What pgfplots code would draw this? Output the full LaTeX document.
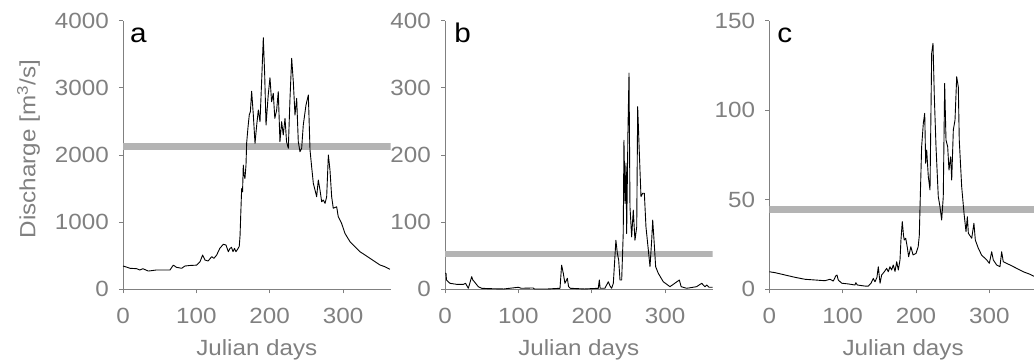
\documentclass[border=0pt]{standalone}
\usepackage{pgfplots}
\pgfplotsset{compat=1.18}
\usepackage{pgfplotstable}
\usepackage{fontspec}
\setmainfont[FakeStretch=1.1]{Liberation Sans}
\definecolor{axgray}{HTML}{808080}
\definecolor{thrgray}{HTML}{B4B4B4}

\pgfplotstableread{
d v
0 347
5 330
9.5 313
18.6 307
23 287
27 307
34.5 272
39 278
45 287
55 287
64 287
68.6 360
73 327
80 313
84.5 347
91.3 355
100.5 360
105 411
108.6 510
111.8 436
116 421
121 486
124 461
127.7 510
132 610
136.7 670
140.4 660
143.6 560
146 610
148 625
150 560
152 610
154 560
157 610
158.5 640
159.6 800
160.5 1100
161.8 1500
163 1450
164 1850
165 1700
166.3 1650
167.7 1850
168.6 2180
170.5 2420
172.2 2600
173.7 2645
175.4 2950
177.7 2595
180 2174
182.3 2446
184.5 2670
186.8 2496
189 3091
191.3 3746
193.2 3191
195 2446
198 2893
200.4 3151
202.6 2793
204.9 2918
207 2546
209.5 2670
211.7 2943
214 2198
216.3 2496
218.5 2298
220.9 2546
223 2198
225.4 2100
227.7 2844
230 3440
232.2 3091
234.5 2595
236.8 2844
239 2198
241.3 2049
243.6 2100
245.8 2446
249.5 2744
252.7 2893
255 2074
257.2 1826
259.5 1578
261.8 1479
264 1379
266.3 1627
268.6 1479
270.9 1304
273 1330
275.5 1280
277.7 1379
280 2000
282.2 1776
284.5 1379
286.7 1206
291.3 1230
293.5 1081
298 983
302.6 834
309.5 709
316.3 634
323 560
330 511
336.7 462
343.6 411
350.4 362
357 337
364 298
}\dataA

\pgfplotstableread{
d v
0 24
1.4 23.8
2 13.8
6.8 8.9
16 7.4
25 7.4
28 8.9
31.8 1.5
36.4 18.8
38 13.8
40 11.3
45.4 3.9
50 1.5
60 1
80 0.5
100 3
104 1.5
120 2
122 0.5
140 0.5
156.8 1.5
159 36
161.3 23.8
163.5 8.9
166.8 16.4
168.5 3.9
171 1.5
190 0.5
209 1.5
210.4 13.8
211.5 1.5
218 1.5
222.7 11.3
225 5
227.2 1.5
229.5 8.9
233 73
235 53.6
236.8 43.6
238.6 13.8
240.9 13.8
243 83
244 222
245.4 128
246.8 188
247.7 83
249.5 240
250.9 322
252.2 123
254.5 78
256.7 118
259 73
261.4 93
262.7 272
265 202
267.2 138
269.5 143
271.8 143
274 93
276.3 68.5
279.5 33.7
281.8 73
283.2 103
285 73
287.2 33.7
290.8 23.8
297.6 11.3
306.7 3.9
319.5 13.8
322 3.9
329.5 1.5
343 3.9
350 8.9
354.5 3.9
357 6.4
360 3
365 3
}\dataB

\pgfplotstableread{
d v
0 9.8
7.8 9.3
21.4 8
35 6.7
48.6 5.6
62.3 5.2
75.9 4.8
82.7 5.6
87.3 4.6
90.5 7.4
92.3 8
94 5.2
98.7 3.4
107.7 3
116.8 2.4
118 3.7
120 2.4
130.5 1.8
135 1.8
138.7 3.4
141.8 6.1
144.1 4.2
146.8 6.7
148.6 12.6
151 3.4
153.2 8
156.8 9.8
160 11.7
162.2 9.8
164.5 12.6
166.8 10.8
169 13.6
171.4 10
173.7 15.4
175.9 10.8
178.2 16.4
179.5 27.5
181.3 37.8
183 30
184 27.5
186 28.5
188 23.8
190 18.2
193 23.8
196 19.2
200 20
203 23.8
204.5 30
205.5 46
207.7 79.6
210 92.7
211.9 98.3
213.2 70.4
214.6 77.8
216.8 62.9
219.1 55.5
221.4 131.8
223.2 137.4
225 107.6
227.3 79.6
230.4 51.7
232.7 46.1
235 38.7
237.2 51.7
239.1 115
240.9 83.4
243.2 79.6
245 66.6
247.3 74
248.7 61
250.9 89
253.2 94.5
255.5 118.7
257.7 113
259 83.4
262.3 57.3
265.5 42.4
268.2 32.2
270 40.5
271.4 31.3
276 28.5
279 36.9
280.9 27.5
285 22.9
289.5 19.1
296.4 16.4
300 14.5
303.2 21
305.4 16.4
310 13.6
314.5 12.6
316.8 21
319 15.4
328.1 13.6
337.3 11.7
346.3 9.8
355.4 8.4
360 7.4
365 7
}\dataC

\pgfplotsset{
  panel/.style={
    scale only axis, width=267.7pt, height=268.6pt,
    anchor=south west,
    xmin=0, xmax=365, ymin=0,
    axis x line*=bottom, axis y line*=left,
    axis line style={draw=axgray, line width=0.8pt},
    tick style={draw=axgray, line width=0.8pt},
    major tick length=4pt, tick align=outside,
    xtick={0,100,200,300},
    scaled ticks=false,
    /pgf/number format/1000 sep={},
    /pgf/number format/assume math mode=true,
    ticklabel style={font=\fontsize{22}{25}\selectfont, text=axgray, inner sep=0pt},
    xticklabel style={anchor=north},
    yticklabel style={anchor=east},
    xticklabel shift=15pt,
    yticklabel shift=10pt,
    xlabel={Julian days},
    xlabel style={font=\fontsize{22}{25}\selectfont, text=axgray, inner sep=0pt, anchor=base, at={(axis description cs:0.5,-0.245)}},
  },
  thr/.style={draw=thrgray, line width=6.5pt, forget plot},
  dat/.style={draw=black, line width=0.9pt, line join=round, no marks},
}
\tikzset{lett/.style={font=\fontsize{27}{30}\selectfont, anchor=base west, inner sep=0pt}}

\begin{document}
\begin{tikzpicture}
\begin{axis}[panel, at={(123pt,-289.3pt)}, ymax=4000, ytick={0,1000,2000,3000,4000},
  ylabel={Discharge [m\textsuperscript{3}/s]},
  ylabel style={font=\fontsize{22}{25}\selectfont, text=axgray, inner sep=0pt, anchor=base, at={(axis description cs:-0.327,0.522)}}]
  \addplot[thr] coordinates {(0,2130) (365,2130)};
  \addplot[dat] table[x=d, y=v] {\dataA};
  \node[lett] at (rel axis cs:0.026,0.917) {a};
\end{axis}
\begin{axis}[panel, at={(445pt,-289.3pt)}, ymax=400, ytick={0,100,200,300,400}]
  \addplot[thr] coordinates {(0,52.6) (365,52.6)};
  \addplot[dat] table[x=d, y=v] {\dataB};
  \node[lett] at (rel axis cs:0.034,0.917) {b};
\end{axis}
\begin{axis}[panel, at={(769.3pt,-289.3pt)}, ymax=150, ytick={0,50,100,150}]
  \addplot[thr] coordinates {(0,44.7) (365,44.7)};
  \addplot[dat] table[x=d, y=v] {\dataC};
  \node[lett] at (rel axis cs:0.029,0.917) {c};
\end{axis}
\pgfresetboundingbox
\useasboundingbox (0pt,0pt) rectangle (1034pt,-362pt);
\end{tikzpicture}
\end{document}
